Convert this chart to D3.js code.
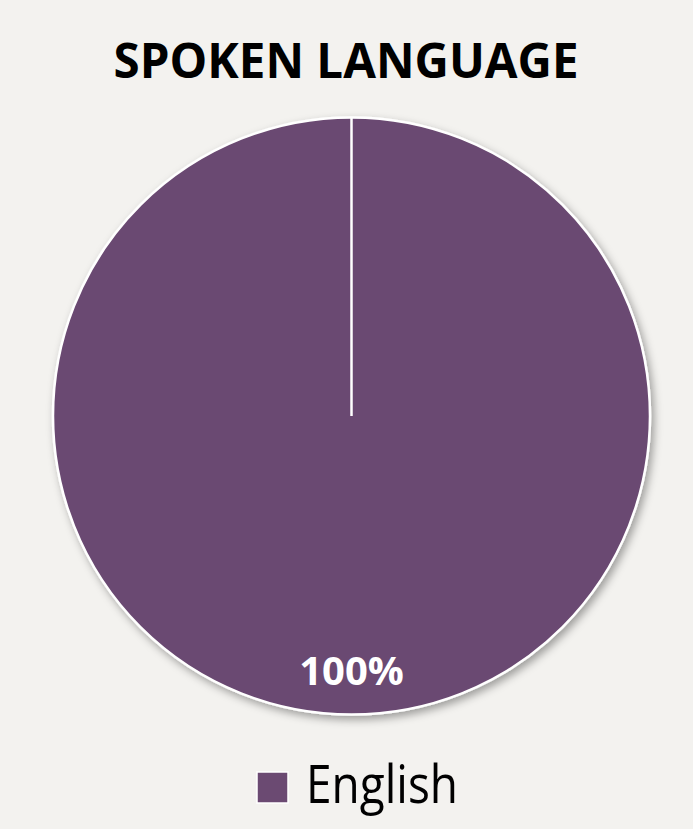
<!DOCTYPE html>
<html>
<head>
<meta charset="utf-8">
<script src="https://cdn.jsdelivr.net/npm/d3@7"></script>
<style>
  html, body { margin: 0; padding: 0; background: #f3f2ef; }
  svg { display: block; }
</style>
</head>
<body>
<svg id="chart" width="693" height="829"></svg>
<script>
// Spoken language share
const categories = ["English"];
const values = [100];
const colors = ["#6b4a72"];
const title = "SPOKEN LANGUAGE";

const width = 693, height = 829;
const cx = 351.5, cy = 416, radius = 298.5;

const svg = d3.select("#chart");
svg.append("rect").attr("width", width).attr("height", height).attr("fill", "#f3f2ef");

const defs = svg.append("defs");
const shadow = defs.append("filter").attr("id", "pieShadow")
  .attr("x", "-10%").attr("y", "-10%").attr("width", "120%").attr("height", "120%");
shadow.append("feDropShadow")
  .attr("dx", 3).attr("dy", 4).attr("stdDeviation", 4)
  .attr("flood-color", "#000").attr("flood-opacity", 0.35);

// Title
svg.append("text")
  .attr("x", 346).attr("y", 78)
  .attr("text-anchor", "middle")
  .attr("font-family", "'Open Sans', sans-serif")
  .attr("font-weight", 700)
  .attr("font-size", 48.5)
  .attr("fill", "#000")
  .attr("textLength", 465)
  .attr("lengthAdjust", "spacingAndGlyphs")
  .text(title);

// Pie
const total = d3.sum(values);
const pie = d3.pie().sort(null).value(d => d)(values);
const arc = d3.arc().innerRadius(0).outerRadius(radius);

const g = svg.append("g").attr("transform", `translate(${cx},${cy})`);
g.selectAll("path.slice")
  .data(pie)
  .join("path")
  .attr("class", "slice")
  .attr("d", arc)
  .attr("fill", (d, i) => colors[i])
  .attr("stroke", "#fff")
  .attr("stroke-width", 2.5)
  .attr("filter", "url(#pieShadow)");

// Slice boundary edges (radial seams)
g.selectAll("line.seam")
  .data(pie)
  .join("line")
  .attr("class", "seam")
  .attr("x1", 0).attr("y1", 0)
  .attr("x2", d => d3.pointRadial(d.startAngle, radius)[0])
  .attr("y2", d => d3.pointRadial(d.startAngle, radius)[1])
  .attr("stroke", "#fff")
  .attr("stroke-width", 2.5);

// Percentage labels
g.selectAll("text.pct")
  .data(pie)
  .join("text")
  .attr("class", "pct")
  .attr("x", d => d3.pointRadial((d.startAngle + d.endAngle) / 2, radius * 0.9)[0])
  .attr("y", d => d3.pointRadial((d.startAngle + d.endAngle) / 2, radius * 0.9)[1])
  .attr("text-anchor", "middle")
  .attr("font-family", "'Open Sans', sans-serif")
  .attr("font-weight", 700)
  .attr("font-size", 40)
  .attr("fill", "#fff")
  .text(d => Math.round(d.data / total * 100) + "%");

// Legend
const legend = svg.append("g").attr("transform", "translate(257,772)");
legend.selectAll("rect")
  .data(categories)
  .join("rect")
  .attr("x", 0).attr("y", 0).attr("width", 31).attr("height", 31)
  .attr("fill", (d, i) => colors[i])
  .attr("stroke", "#fff").attr("stroke-width", 1.5);
legend.selectAll("text")
  .data(categories)
  .join("text")
  .attr("x", 49).attr("y", 31)
  .attr("font-family", "'Open Sans', sans-serif")
  .attr("font-size", 53)
  .attr("fill", "#000")
  .attr("textLength", 152)
  .attr("lengthAdjust", "spacingAndGlyphs")
  .text(d => d);
</script>
</body>
</html>
